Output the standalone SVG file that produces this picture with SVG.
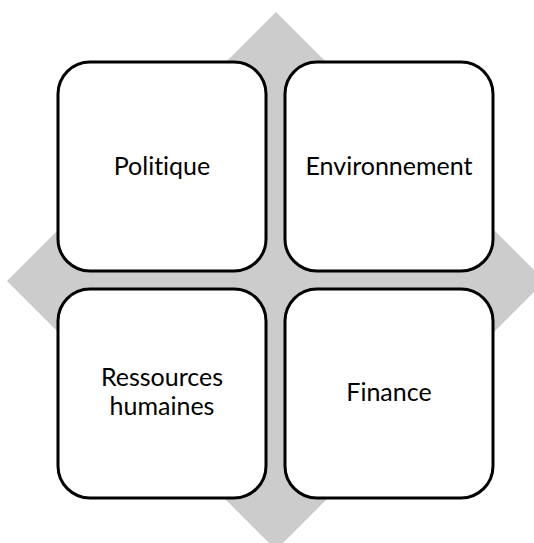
<svg xmlns="http://www.w3.org/2000/svg" width="534" height="543" viewBox="0 0 534 543">
  <style>
    .box { fill: #ffffff; stroke: #000000; stroke-width: 3; }
    .lbl { font-family: Lato, "Liberation Sans", sans-serif; font-size: 25px; fill: #000000; text-anchor: middle; font-variant-ligatures: none; }
  </style>
  <rect width="534" height="543" fill="#ffffff"/>
  <g id="background">
    <polygon points="276,12 545,281 276,550 7,281" fill="#cccccc"/>
  </g>
  <g id="connectors"></g>
  <g id="node-politique">
    <rect class="box" x="58" y="62" width="208" height="209" rx="32" ry="32"/>
    <text class="lbl" x="162" y="175">Politique</text>
  </g>
  <g id="node-environnement">
    <rect class="box" x="285" y="62" width="208" height="209" rx="32" ry="32"/>
    <text class="lbl" x="389" y="175">Environnement</text>
  </g>
  <g id="node-ressources">
    <rect class="box" x="58" y="289" width="208" height="209" rx="32" ry="32"/>
    <text class="lbl" x="162" y="386">Ressources</text>
    <text class="lbl" x="162" y="415">humaines</text>
  </g>
  <g id="node-finance">
    <rect class="box" x="285" y="289" width="208" height="209" rx="32" ry="32"/>
    <text class="lbl" x="389" y="401">Finance</text>
  </g>
</svg>
